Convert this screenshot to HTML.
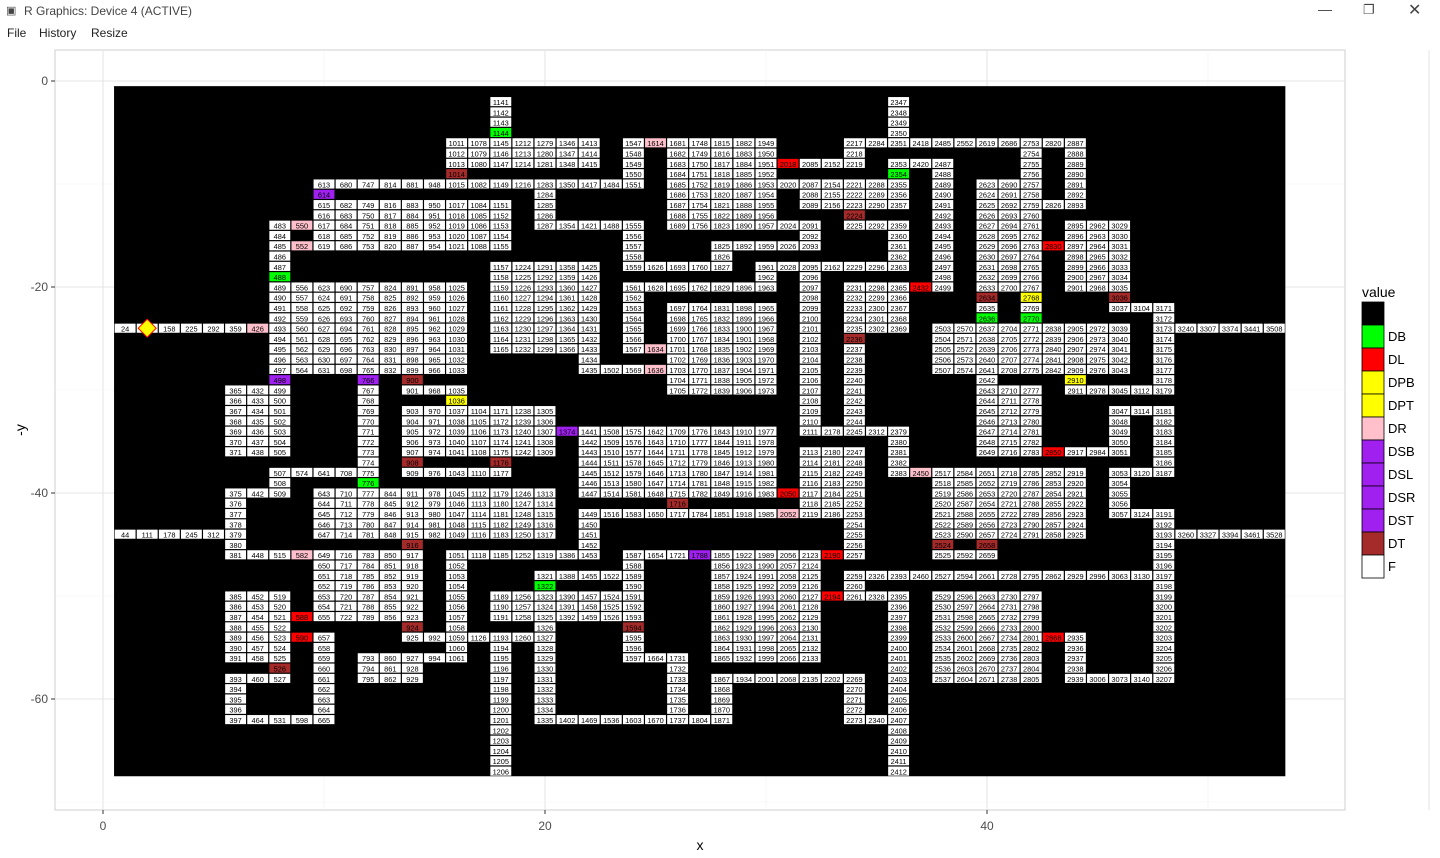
<!DOCTYPE html>
<html><head><meta charset="utf-8"><style>
html,body{margin:0;padding:0;background:#fff;width:1440px;height:858px;overflow:hidden;font-family:"Liberation Sans",sans-serif}
#titlebar{position:absolute;left:0;top:0;width:1440px;height:22px;background:#fff;font-size:12px;color:#444}
#menubar{position:absolute;left:0;top:22px;width:1440px;height:20px;font-size:12px;color:#222}
svg{position:absolute;left:0;top:0}
</style></head><body>
<div id="titlebar">
  <span style="position:absolute;left:6px;top:4px;font-size:11px">▣</span>
  <span style="position:absolute;left:24px;top:4px">R Graphics: Device 4 (ACTIVE)</span>
  <span style="position:absolute;left:1318px;top:1px;font-size:14px">—</span>
  <span style="position:absolute;left:1363px;top:2px;font-size:13px">❐</span>
  <span style="position:absolute;left:1408px;top:0px;font-size:16px">✕</span>
</div>
<div id="menubar">
  <span style="position:absolute;left:7px;top:4px">File</span>
  <span style="position:absolute;left:39px;top:4px">History</span>
  <span style="position:absolute;left:91px;top:4px">Resize</span>
</div>
<svg id="chart" width="1440" height="858" xmlns="http://www.w3.org/2000/svg"></svg>
<script>
// Open cells per column (x = 1..53): rows (y) as ranges
const columnOpenRows = [
"24,44","24,44","24,44","24,44","24,44",
"24,30-36,40-46,50-56,58-62",
"24,30-36,40,46,50-56,58,62",
"14-36,38-40,46,50-58,62",
"14,16,20-28,38,46,52,54,62",
"10-16,20-28,38,40-44,46-52,54-62",
"10,12-16,20-28,38,40-44,46-52",
"10,12-16,20-44,46-52,56-58",
"10,12-16,20-28,40-44,46-52,56-58",
"10,12-16,20-30,32-38,40-54,56-58",
"10,12-16,20-28,30,32-36,38,40-44,54,56",
"6-10,12-16,20-28,30-36,38,40-44,46-56",
"6-8,10,12-16,32-36,38,40-44,46,54",
"2-8,10,12-16,18-26,32-38,40-44,46,50-52,54-67",
"6-8,10,18-26,32-36,40-44,46,50-52,54",
"6-8,10-14,18-26,32-36,40-44,46,48-62",
"6-8,10,14,18-26,34,46,48,50-52,62",
"6-8,10,14,18-28,34-40,42-46,48,50-52,62",
"10,14,28,34-40,42,48,50-52,62",
"6-10,14-18,20-26,28,34-40,42,46-56,62",
"6,18,20,26,28,34-40,42,46,56,62",
"6-14,18,20,22-30,34-42,46,56-62",
"6-14,18,20,22-30,34-40,42,46,62",
"6-14,16-18,20,22-30,34-40,42,46-56,58-62",
"6-14,16,20,22-30,34-40,42,46-56,58",
"6-14,16,18-20,22-30,34-40,42,46-56,58",
"8,10,14,16,18,40,42,46-56,58",
"8,10-12,14-16,18-34,36-42,46-56,58",
"8,10-12,18,34,36-42,46,50,58",
"6-8,10-14,18,20-34,36-46,48-50,58-62",
"6,10-12,14,18,20-24,34,48,50,62",
"2-6,8-12,14-18,20-24,34-38,48,50-67",
"6,8,20,38,48",
"6,8-20,24-28,38-46,48,50-58",
"6,24-28,38-44,46,48,50-58",
"6,10-36,38-46,48,50-58",
"6,10-20,24-28,30-36,38-44,48,50-58",
"6-28,30-36,38-44,48,50-58",
"6,12,16,24-28,36,38-44,48,54",
"6-12,14-20,24-30,36,38-44,48,54-58",
"14-20,24-28,30,36,48,58",
"14-22,24-28,30,32-36,38-42,48,58",
"22,30,32,38,42,48,58",
"22-30,32-38,42-58",
"24,44","24,44","24,44","24,44","24,44"
];
// Special (non-F) cells: cell id and type
const specialIds   = [614,498,766,1374,1788, 1144,488,776,1322,2354,2636,2770, 2018,2050,2190,2194,2432,2830,2850,2868,588,590, 1036,2910, 2768, 550,552,426,582,1614,1634,1636,2052,2450, 1014,900,908,916,924,526,1176,1594,1716,2224,2236,2524,2634,2658,3036];
const specialTypes = ["DSB","DSB","DSB","DSB","DSB", "DB","DB","DB","DB","DB","DB","DB", "DL","DL","DL","DL","DL","DL","DL","DL","DL","DL", "DPB","DPB", "DPT", "DR","DR","DR","DR","DR","DR","DR","DR","DR", "DT","DT","DT","DT","DT","DT","DT","DT","DT","DT","DT","DT","DT","DT","DT"];
const legendLabels = ["","DB","DL","DPB","DPT","DR","DSB","DSL","DSR","DST","DT","F"];
const xTicks = [0,20,40];
const yTicks = [0,-20,-40,-60];
const nRows = 67, nCols = 53;
const startCell = [2,24];

const colors = {"":"#000000",DB:"#00ff00",DL:"#ff0000",DPB:"#ffff00",DPT:"#ffff00",DR:"#ffc0cb",DSB:"#a020f0",DSL:"#a020f0",DSR:"#a020f0",DST:"#a020f0",DT:"#a52a2a",F:"#ffffff"};
const NS="http://www.w3.org/2000/svg";
const svg=document.getElementById('chart');
const sx=v=>103+22.1*v;
const sy=v=>81-10.3*v;
function mk(tag,attrs,parent){const e=document.createElementNS(NS,tag);for(const k in attrs)e.setAttribute(k,attrs[k]);(parent||svg).appendChild(e);return e;}

const panel=mk('rect',{x:55,y:50,width:1290,height:760,fill:'#ffffff',stroke:'#cfcfcf','stroke-width':1});


const grid=mk('g',{});


for(let v=0;v<=60;v+=10){mk('line',{x1:sx(v),x2:sx(v),y1:50,y2:810,stroke:v%20?'#f2f2f2':'#e5e5e5','stroke-width':v%20?0.6:1.1},grid);}
for(let v=0;v>=-70;v-=10){mk('line',{x1:55,x2:1345,y1:sy(v),y2:sy(v),stroke:v%20?'#f2f2f2':'#e5e5e5','stroke-width':v%20?0.6:1.1},grid);}

const bg=mk('rect',{x:sx(0.5),y:sy(-0.5),width:sx(53.5)-sx(0.5),height:sy(-67.5)-sy(-0.5),fill:'#000'});



const specialMap={};specialIds.forEach((id,i)=>specialMap[id]=specialTypes[i]);
const cells=mk('g',{});


columnOpenRows.forEach((spec,ci)=>{
  const x=ci+1;
  spec.split(',').forEach(part=>{
    const [a,b]=part.split('-').map(Number);
    for(let y=a;y<=(b||a);y++){
      const id=(x-1)*nRows+y;
      const t=specialMap[id]||'F';
      const px=sx(x-0.5), py=sy(-y+0.5);
      const r=mk('rect',{x:px+0.6,y:py+0.6,width:22.1-1.2,height:10.3-1.2,fill:colors[t]},cells);
      
      
      const tx=mk('text',{x:sx(x),y:sy(-y)+3.4,'text-anchor':'middle','font-size':'7.4','fill':'#000','font-family':'Liberation Sans, sans-serif'},cells);
      tx.textContent=id;
      
      
    }
  });
});
const cx=sx(startCell[0]), cy=sy(-startCell[1]);
const dm=mk('polygon',{points:`${cx},${cy-9} ${cx+9},${cy} ${cx},${cy+9} ${cx-9},${cy}`,fill:'#ffff00',stroke:'#ff0000','stroke-width':1});



xTicks.forEach(v=>{
  const l=mk('line',{x1:sx(v),x2:sx(v),y1:810,y2:814,stroke:'#333'});
  
  
  const t=mk('text',{x:sx(v),y:830,'text-anchor':'middle','font-size':12,fill:'#4d4d4d'});
  t.textContent=v;
  
  
});
yTicks.forEach(v=>{
  const l=mk('line',{x1:51,x2:55,y1:sy(v),y2:sy(v),stroke:'#333'});
  
  
  const t=mk('text',{x:48,y:sy(v)+4,'text-anchor':'end','font-size':12,fill:'#4d4d4d'});
  t.textContent=v;
  
  
});
const xt=mk('text',{x:700,y:850,'text-anchor':'middle','font-size':14,fill:'#000'});
xt.textContent='x';


const yt=mk('text',{x:0,y:0,'text-anchor':'middle','font-size':14,fill:'#000',transform:'translate(25,430) rotate(-90)'});
yt.textContent='-y';



const lg=mk('g',{});


const lt=mk('text',{x:1362,y:297,'font-size':14,fill:'#000'},lg);
lt.textContent='value';


legendLabels.forEach((lab,i)=>{
  const y=302+i*23;
  const r=mk('rect',{x:1362,y:y,width:22,height:23,fill:colors[lab],stroke:'#000','stroke-width':0.8},lg);
  
  
  const t=mk('text',{x:1388,y:y+16,'font-size':13,fill:'#000'},lg);
  t.textContent=lab;
  
  
});
</script>
</body></html>
